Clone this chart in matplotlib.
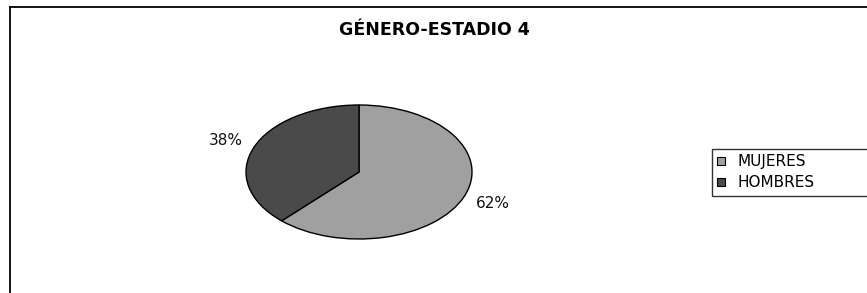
import matplotlib
matplotlib.use("Agg")
import matplotlib.pyplot as plt
from matplotlib.lines import Line2D
from matplotlib.patches import Patch

plt.rcParams['font.family'] = ['DejaVu Sans']

title = "GÉNERO-ESTADIO 4"
categories = ["MUJERES", "HOMBRES"]
values = [62, 38]
colors = ["#A0A0A0", "#4A4A4A"]

W, H = 867, 293
fig = plt.figure(figsize=(W / 100, H / 100), dpi=100)

# outer chart border (left and top visible, rest cropped)
fig.add_artist(Line2D([10 / W, 10 / W], [0, 1 - 7 / H], transform=fig.transFigure,
                      color="black", lw=1.3))
fig.add_artist(Line2D([10 / W, 1], [1 - 7 / H, 1 - 7 / H], transform=fig.transFigure,
                      color="black", lw=1.3))

cx, cy, rx, ry = 359, 172, 113, 67
ax = fig.add_axes([(cx - rx) / W, (H - cy - ry) / H, 2 * rx / W, 2 * ry / H])
wedges, texts, autotexts = ax.pie(values, colors=colors, startangle=90, counterclock=False,
                                  autopct='%1.0f%%', pctdistance=1.27,
                                  wedgeprops=dict(edgecolor="black", linewidth=1.0))
for t in autotexts:
    t.set_fontsize(11)
    t.set_color("#111111")
ax.set_aspect('auto')
ax.set_xlim(-1, 1)
ax.set_ylim(-1, 1)
ax.axis('off')
for w in wedges:
    w.set_clip_on(False)

fig.text(434 / W, 1 - 30 / H, title, ha="center", va="center", fontsize=12.5,
         fontweight="bold")

handles = [Patch(facecolor=c, edgecolor="black", linewidth=0.8) for c in colors]
leg = fig.legend(handles, categories, loc="upper left",
                 bbox_to_anchor=(712 / W, 0, 200 / W, 1 - 149 / H), mode="expand",
                 fontsize=11, frameon=True, fancybox=False,
                 handlelength=0.5, handleheight=0.5,
                 handletextpad=0.8, labelspacing=0.4, borderpad=0.35,
                 borderaxespad=0)
leg.get_frame().set_edgecolor("black")
leg.get_frame().set_linewidth(1.0)

fig.savefig("out.png", dpi=100)
